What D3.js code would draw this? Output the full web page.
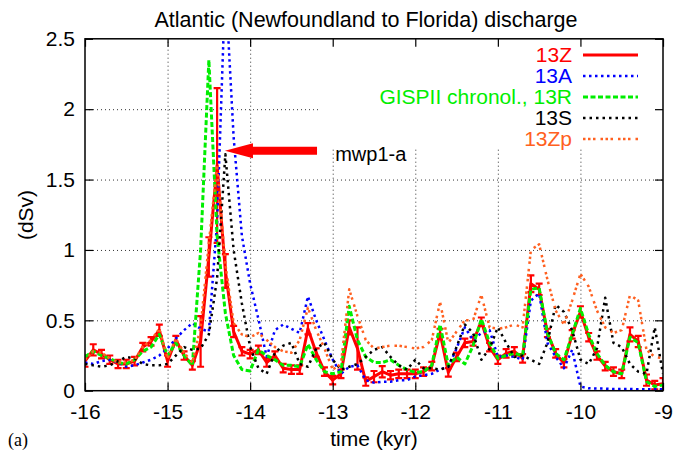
<!DOCTYPE html>
<html>
<head>
<meta charset="utf-8">
<script src="https://cdn.jsdelivr.net/npm/d3@7"></script>
<style>
body { margin: 0; background: #fff; }
text { font-family: "Liberation Sans", Arial, Helvetica, sans-serif; }
</style>
</head>
<body>
<svg id="chart" width="683" height="450"></svg>
<script>
// sample times (kyr)
var times = [-16.0,-15.9,-15.8,-15.7,-15.6,-15.5,-15.4,-15.3,-15.2,-15.1,
             -15.0,-14.9,-14.8,-14.7,-14.6,-14.5,-14.4,-14.3,-14.2,-14.1,
             -14.0,-13.9,-13.8,-13.7,-13.6,-13.5,-13.4,-13.3,-13.2,-13.1,
             -13.0,-12.9,-12.8,-12.7,-12.6,-12.5,-12.4,-12.3,-12.2,-12.1,
             -12.0,-11.9,-11.8,-11.7,-11.6,-11.5,-11.4,-11.3,-11.2,-11.1,
             -11.0,-10.9,-10.8,-10.7,-10.6,-10.5,-10.4,-10.3,-10.2,-10.1,
             -10.0,-9.9,-9.8,-9.7,-9.6,-9.5,-9.4,-9.3,-9.2,-9.1,
             -9.0];

// 13Z (with error bars)
var s13Z = [0.21,0.29,0.26,0.22,0.19,0.19,0.21,0.31,0.35,0.43,
            0.21,0.36,0.25,0.18,0.35,0.95,1.6,0.85,0.42,0.28,
            0.26,0.29,0.2,0.25,0.16,0.15,0.15,0.44,0.27,0.135,
            0.075,0.12,0.45,0.3,0.065,0.1,0.135,0.11,0.12,0.12,
            0.12,0.135,0.175,0.41,0.13,0.24,0.34,0.35,0.49,0.31,
            0.22,0.265,0.28,0.23,0.76,0.72,0.41,0.265,0.195,0.4,
            0.56,0.38,0.25,0.175,0.135,0.12,0.4,0.35,0.075,0.04,
            0.05];
var err13Z = [0.04,0.04,0.03,0.03,0.03,0.03,0.03,0.03,0.03,0.04,
              0.04,0.03,0.03,0.03,0.18,0.14,0.55,0.12,0.04,0.03,
              0.03,0.03,0.03,0.03,0.03,0.03,0.03,0.04,0.03,0.03,
              0.03,0.03,0.05,0.15,0.03,0.04,0.04,0.03,0.03,0.03,
              0.03,0.03,0.03,0.03,0.03,0.03,0.03,0.03,0.03,0.03,
              0.03,0.03,0.03,0.03,0.06,0.04,0.03,0.03,0.03,0.03,
              0.04,0.03,0.03,0.03,0.03,0.03,0.05,0.04,0.04,0.03,
              0.04];
// 13A
var s13A = [0.2,0.19,0.21,0.22,0.2,0.17,0.18,0.2,0.22,0.25,
            0.3,0.37,0.43,0.48,0.44,0.42,1.2,2.9,1.8,1.1,
            0.76,0.51,0.24,0.43,0.47,0.44,0.41,0.67,0.5,0.36,
            0.22,0.12,0.17,0.18,0.075,0.057,0.064,0.064,0.075,0.075,
            0.1,0.11,0.12,0.15,0.17,0.3,0.45,0.36,0.41,0.43,
            0.24,0.25,0.24,0.22,0.64,0.69,0.34,0.24,0.16,0.29,
            0.03,0.017,0.015,0.015,0.012,0.012,0.012,0.01,0.01,0.01,
            0.01];
// GISPII chronol., 13R
var s13R = [0.24,0.28,0.25,0.23,0.2,0.19,0.22,0.28,0.31,0.4,
            0.25,0.34,0.25,0.18,1.0,2.35,1.1,0.55,0.25,0.15,
            0.14,0.29,0.25,0.22,0.18,0.18,0.17,0.33,0.22,0.135,
            0.12,0.135,0.6,0.36,0.24,0.2,0.2,0.22,0.18,0.15,
            0.13,0.135,0.18,0.47,0.18,0.24,0.19,0.32,0.51,0.34,
            0.23,0.25,0.265,0.25,0.72,0.73,0.41,0.265,0.22,0.4,
            0.585,0.4,0.265,0.18,0.135,0.12,0.38,0.34,0.065,0.03,
            0.04];
// 13S
var s13S = [0.19,0.18,0.17,0.18,0.21,0.24,0.23,0.19,0.18,0.18,
            0.19,0.25,0.31,0.29,0.3,0.4,0.8,1.68,1.0,0.62,
            0.31,0.16,0.12,0.27,0.32,0.34,0.19,0.17,0.3,0.34,
            0.22,0.15,0.17,0.19,0.24,0.29,0.31,0.24,0.18,0.15,
            0.22,0.16,0.16,0.15,0.17,0.31,0.47,0.41,0.22,0.3,
            0.45,0.34,0.24,0.25,0.22,0.19,0.34,0.61,0.56,0.43,
            0.22,0.19,0.3,0.66,0.34,0.31,0.19,0.135,0.12,0.45,
            0.12];
// 13Zp
var s13Zp = [0.22,0.28,0.27,0.23,0.2,0.2,0.22,0.31,0.36,0.44,
             0.23,0.37,0.27,0.2,0.45,1.05,1.6,0.9,0.48,0.4,
             0.38,0.41,0.36,0.31,0.28,0.27,0.36,0.59,0.43,0.3,
             0.15,0.19,0.72,0.53,0.36,0.3,0.31,0.32,0.32,0.31,
             0.3,0.31,0.36,0.63,0.34,0.42,0.5,0.5,0.68,0.45,
             0.44,0.45,0.47,0.45,1.0,1.04,0.79,0.57,0.47,0.64,
             0.83,0.74,0.57,0.45,0.41,0.43,0.68,0.64,0.29,0.24,
             0.23];

var xTickValues = [-16,-15,-14,-13,-12,-11,-10,-9];
var yTickValues = [0,0.5,1,1.5,2,2.5];

// mwp1-a arrow (data coords)
var arrowTip = [-14.305, 1.705];
var arrowTail = [-13.19, 1.705];
var arrowLabelPos = [-12.97, 1.68];

var series = [
    {name:"13Z", values:s13Z, color:"#ff0000", width:3, dash:null},
    {name:"13A", values:s13A, color:"#0000ff", width:2.5, dash:"2.5,3.5"},
    {name:"GISPII chronol., 13R", values:s13R, color:"#00ee00", width:3, dash:"5,2.5"},
    {name:"13S", values:s13S, color:"#000000", width:2.5, dash:"2.5,4"},
    {name:"13Zp", values:s13Zp, color:"#ff6020", width:2.5, dash:"2.5,2.5,2.5,2.5,2.5,5"}
];

var svg = d3.select("#chart");
var plot = {left:85, right:663, top:38.8, bottom:390.7};

var xScale = d3.scaleLinear().domain([-16,-9]).range([plot.left, plot.right]);
var yScale = d3.scaleLinear().domain([0,2.5]).range([plot.bottom, plot.top]);

svg.append("rect").attr("width",683).attr("height",450).attr("fill","#fff");

// grid
var grid = svg.append("g").attr("class","grid");
grid.append("g")
    .attr("transform","translate(0,"+plot.bottom+")")
    .call(d3.axisBottom(xScale).tickValues(xTickValues.slice(1,-1))
        .tickSize(-(plot.bottom-plot.top)).tickFormat(""));
grid.append("g")
    .attr("transform","translate("+plot.left+",0)")
    .call(d3.axisLeft(yScale).tickValues(yTickValues.slice(1,-1))
        .tickSize(-(plot.right-plot.left)).tickFormat(""));
grid.selectAll(".domain").remove();
grid.selectAll("line")
    .attr("stroke","#333")
    .attr("stroke-width",1)
    .attr("stroke-dasharray","1,3");

// opaque key area
svg.append("rect")
    .attr("x",318).attr("y",plot.top+1)
    .attr("width",plot.right-318-1).attr("height",148-plot.top-1)
    .attr("fill","#fff");

// clip
svg.append("clipPath").attr("id","clip")
    .append("rect")
    .attr("x",plot.left).attr("y",plot.top)
    .attr("width",plot.right-plot.left).attr("height",plot.bottom-plot.top);

var g = svg.append("g").attr("clip-path","url(#clip)");

var lineGen = d3.line()
    .x(function(d,i){ return xScale(times[i]); })
    .y(function(d){ return yScale(d); });

series.forEach(function(s, k){
    g.append("path")
        .datum(s.values)
        .attr("d", lineGen)
        .attr("fill","none")
        .attr("stroke", s.color)
        .attr("stroke-width", s.width)
        .attr("stroke-dasharray", s.dash)
        .attr("stroke-linejoin","round");
    if (k === 0) {
        // error bars for 13Z
        var eb = g.append("g").attr("stroke", s.color).attr("stroke-width",2.2);
        s13Z.forEach(function(v,i){
            var x = xScale(times[i]);
            var y0 = yScale(v - err13Z[i]), y1 = yScale(v + err13Z[i]);
            eb.append("line").attr("x1",x).attr("x2",x).attr("y1",y0).attr("y2",y1);
            eb.append("line").attr("x1",x-3.5).attr("x2",x+3.5).attr("y1",y0).attr("y2",y0);
            eb.append("line").attr("x1",x-3.5).attr("x2",x+3.5).attr("y1",y1).attr("y2",y1);
        });
    }
});

// axes with inward ticks
var fontSize = 21;
var xAxis = svg.append("g")
    .attr("transform","translate(0,"+plot.bottom+")")
    .call(d3.axisBottom(xScale).tickValues(xTickValues).tickSizeInner(-8).tickSizeOuter(0)
        .tickPadding(13).tickFormat(function(d){ return String(d); }));
var yAxis = svg.append("g")
    .attr("transform","translate("+plot.left+",0)")
    .call(d3.axisLeft(yScale).tickValues(yTickValues).tickSizeInner(-8).tickSizeOuter(0)
        .tickPadding(10).tickFormat(function(d){ return String(d); }));
var xTop = svg.append("g")
    .attr("transform","translate(0,"+plot.top+")")
    .call(d3.axisTop(xScale).tickValues(xTickValues).tickSizeInner(-8).tickSizeOuter(0).tickFormat(""));
var yRight = svg.append("g")
    .attr("transform","translate("+plot.right+",0)")
    .call(d3.axisRight(yScale).tickValues(yTickValues).tickSizeInner(-8).tickSizeOuter(0).tickFormat(""));
[xAxis, yAxis, xTop, yRight].forEach(function(a){
    a.selectAll(".domain").remove();
    a.selectAll("line").attr("stroke","#000").attr("stroke-width",1.2);
    a.selectAll("text")
        .attr("fill","#000")
        .style("font-size", fontSize+"px")
        .style("font-family",'"Liberation Sans", Arial, Helvetica, sans-serif');
});

// border
svg.append("rect")
    .attr("x",plot.left).attr("y",plot.top)
    .attr("width",plot.right-plot.left).attr("height",plot.bottom-plot.top)
    .attr("fill","none").attr("stroke","#000").attr("stroke-width",1.5);

// arrow
var tipX = xScale(arrowTip[0]), tipY = yScale(arrowTip[1]);
var tailX = xScale(arrowTail[0]);
var headLen = 28, headHalf = 7.5, shaftHalf = 4;
svg.append("path")
    .attr("d", "M"+tipX+","+tipY+
        "L"+(tipX+headLen)+","+(tipY-headHalf)+
        "L"+(tipX+headLen)+","+(tipY-shaftHalf)+
        "L"+tailX+","+(tipY-shaftHalf)+
        "L"+tailX+","+(tipY+shaftHalf)+
        "L"+(tipX+headLen)+","+(tipY+shaftHalf)+
        "L"+(tipX+headLen)+","+(tipY+headHalf)+"Z")
    .attr("fill","#ff0000");
svg.append("text")
    .attr("x", xScale(arrowLabelPos[0]))
    .attr("y", yScale(arrowLabelPos[1]))
    .attr("dy","0.35em")
    .style("font-size","20px")
    .text("mwp1-a");

// legend
var legend = svg.append("g");
series.forEach(function(s,i){
    var yy = 55 + i*21;
    legend.append("text")
        .attr("x",572).attr("y",yy).attr("dy","0.35em")
        .attr("text-anchor","end")
        .attr("fill", s.color)
        .style("font-size","21px")
        .text(s.name);
    legend.append("line")
        .attr("x1",583).attr("x2",638).attr("y1",yy).attr("y2",yy)
        .attr("stroke", s.color)
        .attr("stroke-width", s.width)
        .attr("stroke-dasharray", s.dash);
});

// labels
svg.append("text")
    .attr("x",366).attr("y",27)
    .attr("text-anchor","middle")
    .style("font-size","21.5px")
    .text("Atlantic (Newfoundland to Florida) discharge");
svg.append("text")
    .attr("x",374).attr("y",446)
    .attr("text-anchor","middle")
    .style("font-size","21px")
    .text("time (kyr)");
svg.append("g")
    .attr("transform","translate(33,215)")
    .append("text")
    .attr("transform","rotate(-90)")
    .attr("text-anchor","middle")
    .style("font-size","21px")
    .text("(dSv)");
svg.append("text")
    .attr("x",8).attr("y",446)
    .style("font-family",'"Liberation Serif", "Times New Roman", serif')
    .style("font-size","18px")
    .text("(a)");
</script>
</body>
</html>
